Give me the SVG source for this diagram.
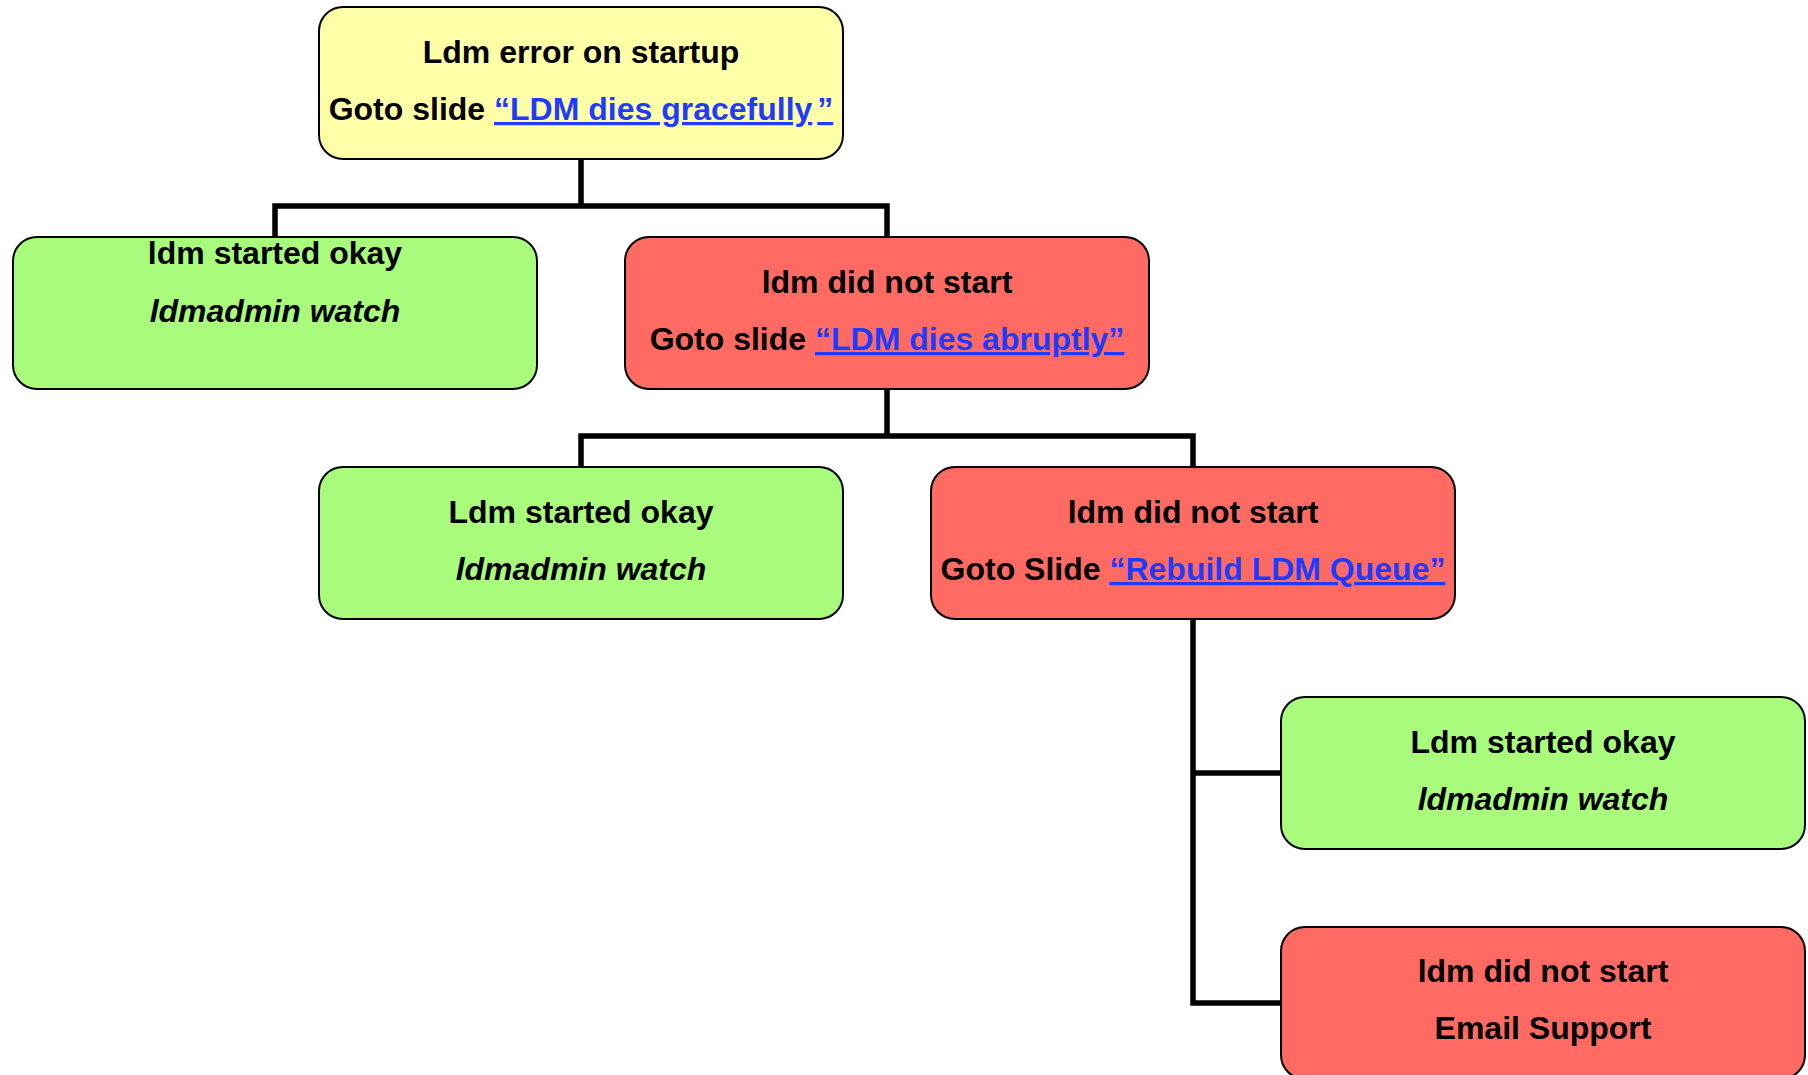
<svg xmlns="http://www.w3.org/2000/svg" width="1808" height="1075" viewBox="0 0 1808 1075">
  <style>
    .box { stroke: #000; stroke-width: 2; }
    .start { fill: #ffffa8; }
    .ok { fill: #a8fb7b; }
    .fail { fill: #ff6a62; }
    .t { font-family: "Liberation Sans", Arial, sans-serif; font-size: 32px; font-weight: bold; fill: #000; text-anchor: middle; }
    .i { font-style: italic; }
    .link { fill: #1f3bff; text-decoration: underline; }
    .wire { fill: none; stroke: #000; stroke-width: 5.5; stroke-linejoin: miter; stroke-linecap: square; }
  </style>
  <rect width="1808" height="1075" fill="#fff"/>

  <!-- connectors -->
  <g id="connectors">
    <path class="wire" d="M581 160 V206 M275 236 V206 H887 V236"/>
    <path class="wire" d="M887 390 V436 M581 466 V436 H1193 V466"/>
    <path class="wire" d="M1193 620 V1003 H1280 M1193 773 H1280"/>
  </g>

  <g id="node-startup-error">
    <rect class="box start" x="319" y="7" width="524" height="152" rx="24"/>
    <text class="t" x="581" y="63">Ldm error on startup</text>
    <text class="t" x="581" y="120">Goto slide <tspan class="link">“LDM dies gracefully<tspan dx="5">”</tspan></tspan></text>
  </g>

  <g id="node-ok-1">
    <rect class="box ok" x="13" y="237" width="524" height="152" rx="24"/>
    <text class="t" x="275" y="264">ldm started okay</text>
    <text class="t i" x="275" y="322">ldmadmin watch</text>
  </g>

  <g id="node-fail-1">
    <rect class="box fail" x="625" y="237" width="524" height="152" rx="24"/>
    <text class="t" x="887" y="293">ldm did not start</text>
    <text class="t" x="887" y="350">Goto slide <tspan class="link">“LDM dies abruptly”</tspan></text>
  </g>

  <g id="node-ok-2">
    <rect class="box ok" x="319" y="467" width="524" height="152" rx="24"/>
    <text class="t" x="581" y="523">Ldm started okay</text>
    <text class="t i" x="581" y="580">ldmadmin watch</text>
  </g>

  <g id="node-fail-2">
    <rect class="box fail" x="931" y="467" width="524" height="152" rx="24"/>
    <text class="t" x="1193" y="523">ldm did not start</text>
    <text class="t" x="1193" y="580">Goto Slide <tspan class="link">“Rebuild LDM Queue”</tspan></text>
  </g>

  <g id="node-ok-3">
    <rect class="box ok" x="1281" y="697" width="524" height="152" rx="24"/>
    <text class="t" x="1543" y="753">Ldm started okay</text>
    <text class="t i" x="1543" y="810">ldmadmin watch</text>
  </g>

  <g id="node-fail-3">
    <rect class="box fail" x="1281" y="927" width="524" height="152" rx="24"/>
    <text class="t" x="1543" y="982">ldm did not start</text>
    <text class="t" x="1543" y="1039">Email Support</text>
  </g>
</svg>
